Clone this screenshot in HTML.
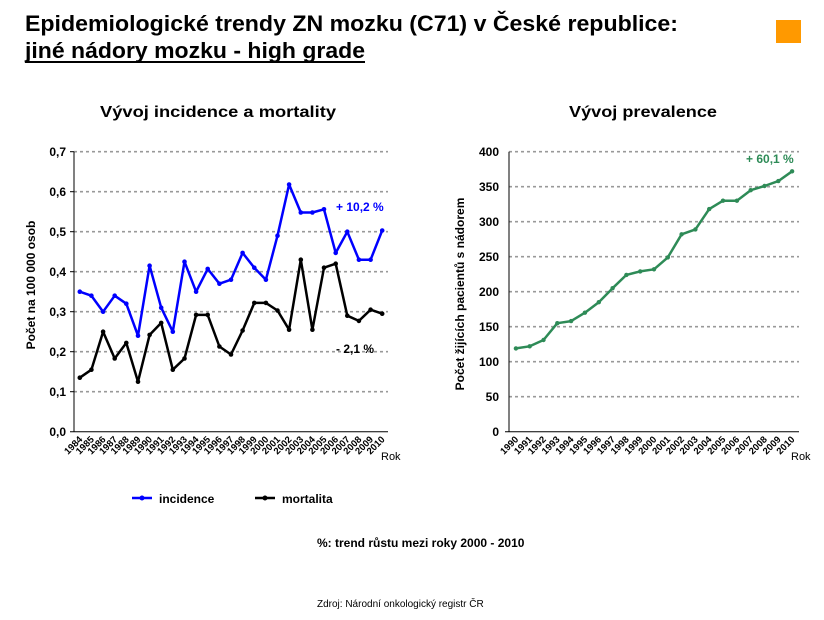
<!DOCTYPE html>
<html><head><meta charset="utf-8"><style>
html,body{margin:0;padding:0;background:#fff;}
svg{display:block;font-family:"Liberation Sans",Arial,sans-serif;}
.yl{font-size:12px;font-weight:bold;text-anchor:end;}
.xl{font-size:9.5px;font-weight:bold;text-anchor:end;}
.g{stroke:#999;stroke-width:1.6;stroke-dasharray:3,3;}
</style></head><body>
<svg width="824" height="620" viewBox="0 0 824 620">
<text x="25" y="31" font-size="22" font-weight="bold" textLength="653" lengthAdjust="spacingAndGlyphs">Epidemiologické trendy ZN mozku (C71) v České republice:</text>
<text x="25" y="58" font-size="22" font-weight="bold" textLength="340" lengthAdjust="spacingAndGlyphs">jiné nádory mozku - high grade</text>
<rect x="25" y="61" width="340" height="2" fill="#000"/>
<rect x="776" y="20" width="25" height="23" fill="#f90"/>
<text x="218" y="117" font-size="16" font-weight="bold" text-anchor="middle" textLength="236" lengthAdjust="spacingAndGlyphs">Vývoj incidence a mortality</text>
<text x="643" y="117" font-size="16" font-weight="bold" text-anchor="middle" textLength="148" lengthAdjust="spacingAndGlyphs">Vývoj prevalence</text>

<!-- left chart -->
<g>
<line class="g" x1="74" x2="388" y1="151.7" y2="151.7"/>
<line class="g" x1="74" x2="388" y1="191.7" y2="191.7"/>
<line class="g" x1="74" x2="388" y1="231.7" y2="231.7"/>
<line class="g" x1="74" x2="388" y1="271.7" y2="271.7"/>
<line class="g" x1="74" x2="388" y1="311.7" y2="311.7"/>
<line class="g" x1="74" x2="388" y1="351.7" y2="351.7"/>
<line class="g" x1="74" x2="388" y1="391.7" y2="391.7"/>
<line x1="74" x2="74" y1="151.7" y2="431.7" stroke="#000"/>
<line x1="70" x2="388" y1="431.7" y2="431.7" stroke="#000"/>
<g stroke="#000"><line x1="70" x2="74" y1="151.7" y2="151.7"/><line x1="70" x2="74" y1="191.7" y2="191.7"/><line x1="70" x2="74" y1="231.7" y2="231.7"/><line x1="70" x2="74" y1="271.7" y2="271.7"/><line x1="70" x2="74" y1="311.7" y2="311.7"/><line x1="70" x2="74" y1="351.7" y2="351.7"/><line x1="70" x2="74" y1="391.7" y2="391.7"/></g>
<text class="yl" x="66" y="156">0,7</text><text class="yl" x="66" y="196">0,6</text><text class="yl" x="66" y="236">0,5</text><text class="yl" x="66" y="276">0,4</text><text class="yl" x="66" y="316">0,3</text><text class="yl" x="66" y="356">0,2</text><text class="yl" x="66" y="396">0,1</text><text class="yl" x="66" y="436">0,0</text>
<text transform="translate(35,285) rotate(-90)" font-size="12" font-weight="bold" text-anchor="middle">Počet na 100 000 osob</text>
<polyline fill="none" stroke="#00f" stroke-width="2.5" stroke-linejoin="round" points="79.8,291.7 91.4,295.7 103.1,311.7 114.7,295.7 126.3,303.7 138,335.7 149.6,265.7 161.2,307.7 172.8,331.7 184.5,261.7 196.1,291.7 207.7,268.9 219.4,283.7 231,279.7 242.6,252.9 254.3,267.7 265.9,279.7 277.5,235.7 289.1,184.5 300.8,212.5 312.4,212.5 324,209.3 335.7,252.9 347.3,231.7 358.9,259.7 370.6,259.7 382.2,230.5"/>
<polyline fill="none" stroke="#00f" stroke-width="5" stroke-linecap="round" stroke-dasharray="0 1000" points="79.8,291.7"/>
<g fill="#00f"><circle cx="79.8" cy="291.7" r="2.3"/><circle cx="91.4" cy="295.7" r="2.3"/><circle cx="103.1" cy="311.7" r="2.3"/><circle cx="114.7" cy="295.7" r="2.3"/><circle cx="126.3" cy="303.7" r="2.3"/><circle cx="138" cy="335.7" r="2.3"/><circle cx="149.6" cy="265.7" r="2.3"/><circle cx="161.2" cy="307.7" r="2.3"/><circle cx="172.8" cy="331.7" r="2.3"/><circle cx="184.5" cy="261.7" r="2.3"/><circle cx="196.1" cy="291.7" r="2.3"/><circle cx="207.7" cy="268.9" r="2.3"/><circle cx="219.4" cy="283.7" r="2.3"/><circle cx="231" cy="279.7" r="2.3"/><circle cx="242.6" cy="252.9" r="2.3"/><circle cx="254.3" cy="267.7" r="2.3"/><circle cx="265.9" cy="279.7" r="2.3"/><circle cx="277.5" cy="235.7" r="2.3"/><circle cx="289.1" cy="184.5" r="2.3"/><circle cx="300.8" cy="212.5" r="2.3"/><circle cx="312.4" cy="212.5" r="2.3"/><circle cx="324" cy="209.3" r="2.3"/><circle cx="335.7" cy="252.9" r="2.3"/><circle cx="347.3" cy="231.7" r="2.3"/><circle cx="358.9" cy="259.7" r="2.3"/><circle cx="370.6" cy="259.7" r="2.3"/><circle cx="382.2" cy="230.5" r="2.3"/></g>
<polyline fill="none" stroke="#000" stroke-width="2.5" stroke-linejoin="round" points="79.8,377.7 91.4,369.7 103.1,331.7 114.7,358.5 126.3,342.9 138,381.7 149.6,334.9 161.2,322.9 172.8,369.7 184.5,358.5 196.1,314.9 207.7,314.9 219.4,346.5 231,354.5 242.6,330.5 254.3,302.9 265.9,302.9 277.5,310.5 289.1,329.7 300.8,259.7 312.4,329.7 324,267.7 335.7,263.7 347.3,315.7 358.9,320.9 370.6,309.7 382.2,313.7"/>
<g fill="#000"><circle cx="79.8" cy="377.7" r="2.3"/><circle cx="91.4" cy="369.7" r="2.3"/><circle cx="103.1" cy="331.7" r="2.3"/><circle cx="114.7" cy="358.5" r="2.3"/><circle cx="126.3" cy="342.9" r="2.3"/><circle cx="138" cy="381.7" r="2.3"/><circle cx="149.6" cy="334.9" r="2.3"/><circle cx="161.2" cy="322.9" r="2.3"/><circle cx="172.8" cy="369.7" r="2.3"/><circle cx="184.5" cy="358.5" r="2.3"/><circle cx="196.1" cy="314.9" r="2.3"/><circle cx="207.7" cy="314.9" r="2.3"/><circle cx="219.4" cy="346.5" r="2.3"/><circle cx="231" cy="354.5" r="2.3"/><circle cx="242.6" cy="330.5" r="2.3"/><circle cx="254.3" cy="302.9" r="2.3"/><circle cx="265.9" cy="302.9" r="2.3"/><circle cx="277.5" cy="310.5" r="2.3"/><circle cx="289.1" cy="329.7" r="2.3"/><circle cx="300.8" cy="259.7" r="2.3"/><circle cx="312.4" cy="329.7" r="2.3"/><circle cx="324" cy="267.7" r="2.3"/><circle cx="335.7" cy="263.7" r="2.3"/><circle cx="347.3" cy="315.7" r="2.3"/><circle cx="358.9" cy="320.9" r="2.3"/><circle cx="370.6" cy="309.7" r="2.3"/><circle cx="382.2" cy="313.7" r="2.3"/></g>
<text x="336" y="211" font-size="12" font-weight="bold" fill="#00f">+ 10,2 %</text>
<text x="336" y="353" font-size="12" font-weight="bold" fill="#000">- 2,1 %</text>
<g class="xl">
<text transform="translate(83,440) rotate(-45)">1984</text><text transform="translate(94.6,440) rotate(-45)">1985</text><text transform="translate(106.3,440) rotate(-45)">1986</text><text transform="translate(117.9,440) rotate(-45)">1987</text><text transform="translate(129.5,440) rotate(-45)">1988</text><text transform="translate(141.2,440) rotate(-45)">1989</text><text transform="translate(152.8,440) rotate(-45)">1990</text><text transform="translate(164.4,440) rotate(-45)">1991</text><text transform="translate(176,440) rotate(-45)">1992</text><text transform="translate(187.7,440) rotate(-45)">1993</text><text transform="translate(199.3,440) rotate(-45)">1994</text><text transform="translate(210.9,440) rotate(-45)">1995</text><text transform="translate(222.6,440) rotate(-45)">1996</text><text transform="translate(234.2,440) rotate(-45)">1997</text><text transform="translate(245.8,440) rotate(-45)">1998</text><text transform="translate(257.5,440) rotate(-45)">1999</text><text transform="translate(269.1,440) rotate(-45)">2000</text><text transform="translate(280.7,440) rotate(-45)">2001</text><text transform="translate(292.3,440) rotate(-45)">2002</text><text transform="translate(304,440) rotate(-45)">2003</text><text transform="translate(315.6,440) rotate(-45)">2004</text><text transform="translate(327.2,440) rotate(-45)">2005</text><text transform="translate(338.9,440) rotate(-45)">2006</text><text transform="translate(350.5,440) rotate(-45)">2007</text><text transform="translate(362.1,440) rotate(-45)">2008</text><text transform="translate(373.8,440) rotate(-45)">2009</text><text transform="translate(385.4,440) rotate(-45)">2010</text>
</g>
<text x="381" y="460" font-size="11">Rok</text>
</g>

<!-- right chart -->
<g>
<line class="g" x1="509" x2="799" y1="151.7" y2="151.7"/>
<line class="g" x1="509" x2="799" y1="186.7" y2="186.7"/>
<line class="g" x1="509" x2="799" y1="221.7" y2="221.7"/>
<line class="g" x1="509" x2="799" y1="256.7" y2="256.7"/>
<line class="g" x1="509" x2="799" y1="291.7" y2="291.7"/>
<line class="g" x1="509" x2="799" y1="326.7" y2="326.7"/>
<line class="g" x1="509" x2="799" y1="361.7" y2="361.7"/>
<line class="g" x1="509" x2="799" y1="396.7" y2="396.7"/>
<line x1="509" x2="509" y1="151.7" y2="431.7" stroke="#000"/>
<line x1="505" x2="799" y1="431.7" y2="431.7" stroke="#000"/>
<text class="yl" x="499" y="156">400</text><text class="yl" x="499" y="191">350</text><text class="yl" x="499" y="226">300</text><text class="yl" x="499" y="261">250</text><text class="yl" x="499" y="296">200</text><text class="yl" x="499" y="331">150</text><text class="yl" x="499" y="366">100</text><text class="yl" x="499" y="401">50</text><text class="yl" x="499" y="436">0</text>
<text transform="translate(464,294) rotate(-90)" font-size="12" font-weight="bold" text-anchor="middle">Počet žijících pacientů s nádorem</text>
<polyline fill="none" stroke="#2e8b57" stroke-width="2.5" stroke-linejoin="round" points="515.9,348.4 529.7,346.3 543.5,340 557.3,323.2 571.1,321.1 584.9,312.7 598.8,302.2 612.6,288.2 626.4,274.9 640.2,271.4 654,269.3 667.8,257.4 681.6,234.3 695.4,229.4 709.2,209.1 723,200.7 736.9,200.7 750.7,190.2 764.5,186 778.3,181.1 792.1,171.3"/>
<g fill="#2e8b57"><circle cx="515.9" cy="348.4" r="2.2"/><circle cx="529.7" cy="346.3" r="2.2"/><circle cx="543.5" cy="340" r="2.2"/><circle cx="557.3" cy="323.2" r="2.2"/><circle cx="571.1" cy="321.1" r="2.2"/><circle cx="584.9" cy="312.7" r="2.2"/><circle cx="598.8" cy="302.2" r="2.2"/><circle cx="612.6" cy="288.2" r="2.2"/><circle cx="626.4" cy="274.9" r="2.2"/><circle cx="640.2" cy="271.4" r="2.2"/><circle cx="654" cy="269.3" r="2.2"/><circle cx="667.8" cy="257.4" r="2.2"/><circle cx="681.6" cy="234.3" r="2.2"/><circle cx="695.4" cy="229.4" r="2.2"/><circle cx="709.2" cy="209.1" r="2.2"/><circle cx="723" cy="200.7" r="2.2"/><circle cx="736.9" cy="200.7" r="2.2"/><circle cx="750.7" cy="190.2" r="2.2"/><circle cx="764.5" cy="186" r="2.2"/><circle cx="778.3" cy="181.1" r="2.2"/><circle cx="792.1" cy="171.3" r="2.2"/></g>
<text x="746" y="163" font-size="12" font-weight="bold" fill="#2e8b57">+ 60,1 %</text>
<g class="xl">
<text transform="translate(519,440) rotate(-45)">1990</text><text transform="translate(532.8,440) rotate(-45)">1991</text><text transform="translate(546.6,440) rotate(-45)">1992</text><text transform="translate(560.4,440) rotate(-45)">1993</text><text transform="translate(574.2,440) rotate(-45)">1994</text><text transform="translate(588,440) rotate(-45)">1995</text><text transform="translate(601.9,440) rotate(-45)">1996</text><text transform="translate(615.7,440) rotate(-45)">1997</text><text transform="translate(629.5,440) rotate(-45)">1998</text><text transform="translate(643.3,440) rotate(-45)">1999</text><text transform="translate(657.1,440) rotate(-45)">2000</text><text transform="translate(670.9,440) rotate(-45)">2001</text><text transform="translate(684.7,440) rotate(-45)">2002</text><text transform="translate(698.5,440) rotate(-45)">2003</text><text transform="translate(712.3,440) rotate(-45)">2004</text><text transform="translate(726.1,440) rotate(-45)">2005</text><text transform="translate(740,440) rotate(-45)">2006</text><text transform="translate(753.8,440) rotate(-45)">2007</text><text transform="translate(767.6,440) rotate(-45)">2008</text><text transform="translate(781.4,440) rotate(-45)">2009</text><text transform="translate(795.2,440) rotate(-45)">2010</text>
</g>
<text x="791" y="460" font-size="11">Rok</text>
</g>

<!-- legend -->
<line x1="132" x2="152" y1="498" y2="498" stroke="#00f" stroke-width="2.5"/><circle cx="142" cy="498" r="2.5" fill="#00f"/>
<text x="159" y="503" font-size="12" font-weight="bold">incidence</text>
<line x1="255" x2="275" y1="498" y2="498" stroke="#000" stroke-width="2.5"/><circle cx="265" cy="498" r="2.5" fill="#000"/>
<text x="282" y="503" font-size="12" font-weight="bold">mortalita</text>
<text x="317" y="547" font-size="12" font-weight="bold">%: trend růstu mezi roky 2000 - 2010</text>
<text x="317" y="607" font-size="10">Zdroj: Národní onkologický registr ČR</text>
</svg>
</body></html>
